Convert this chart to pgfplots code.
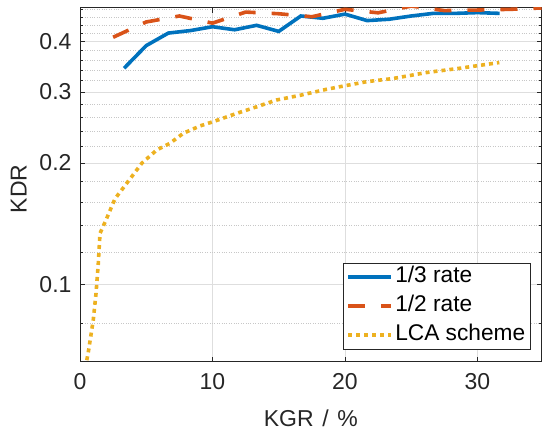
\documentclass[border=0pt]{standalone}
\usepackage{fontspec}
\setmainfont{Liberation Sans}
\usepackage{pgfplots}
\pgfplotsset{compat=1.18}
\definecolor{mblue}{RGB}{0,114,189}
\definecolor{mred}{RGB}{217,83,25}
\definecolor{myellow}{RGB}{237,177,32}
\definecolor{axgray}{RGB}{38,38,38}
\newcommand{\bigfont}{\fontsize{23}{27}\selectfont}
\newcommand{\lgfont}{\fontsize{22.7}{27}\selectfont}
\begin{document}
\begin{tikzpicture}
\useasboundingbox (0,0) rectangle (550pt,437pt);
\begin{axis}[
  at={(80pt,75.3pt)}, anchor=south west,
  scale only axis, width=461.7pt, height=354.2pt,
  xmin=0, xmax=34.85,
  ymode=log, ymin=0.0643, ymax=0.486,
  xtick={0,10,20,30}, xticklabels={0,10,20,30},
  ytick={0.1,0.2,0.3,0.4}, yticklabels={0.1,0.2,0.3,0.4},
  minor ytick={0.08,0.12,0.14,0.16,0.18,0.22,0.24,0.26,0.28,0.32,0.34,0.36,0.38,0.42,0.44,0.46,0.48},
  minor xtick={},
  xmajorgrids, ymajorgrids, yminorgrids,
  major grid style={color=black!13, line width=0.6pt},
  minor grid style={color=black!22, dotted, line width=0.6pt},
  tick align=inside,
  major tick length=5pt, minor tick length=3pt,
  every tick/.style={color=axgray, line width=0.6pt},
  axis line style={color=axgray, line width=0.7pt},
  tick label style={font=\bigfont, text=axgray},
  xticklabel style={yshift=-8pt},
  yticklabel style={xshift=-5pt},
  label style={font=\bigfont, text=axgray},
  xlabel={KGR\hspace{0.38em}/\hspace{0.38em}\%},
  ylabel={KDR},
  xlabel style={at={(axis description cs:0.5,-0.1835)}, anchor=base},
  ylabel style={at={(axis description cs:-0.1154,0.4876)}, anchor=base},
  legend cell align=left,
  legend style={at={(0.977,0.035)}, anchor=south east, draw=axgray, fill=white,
    line width=0.7pt, font=\lgfont, inner ysep=1.5pt, inner xsep=3.5pt, row sep=4pt,
    nodes={text height=16pt, text depth=5pt, inner sep=2pt}},
  legend image code/.code={\draw[#1] (0pt,0pt) -- (43pt,0pt);},
]
\addplot[mblue, line width=3.6pt] coordinates {
(3.33,0.3436) (5,0.391) (6.67,0.420) (8.33,0.426) (10,0.4355) (11.67,0.428)
(13.33,0.439) (15,0.424) (16.67,0.463) (18.33,0.457) (20,0.468) (21.67,0.451)
(23.33,0.4545) (25,0.463) (26.67,0.470) (28.33,0.470) (30,0.472) (31.67,0.470)
};
\addlegendentry{1/3 rate}
\addplot[mred, line width=3.6pt, dash pattern=on 17pt off 16pt] coordinates {
(2.5,0.410) (5,0.4475) (7.5,0.463) (10,0.4445) (12.5,0.4735) (15,0.4690)
(17.5,0.461) (20,0.481) (22.5,0.4715) (25,0.490) (27.5,0.4775) (30,0.479)
(32.5,0.481) (35,0.485)
};
\addlegendentry{1/2 rate}
\addplot[myellow, line width=3.6pt, dash pattern=on 4pt off 4pt] coordinates {
(0.4,0.062) (0.63,0.068) (1.0,0.0815) (1.21,0.095) (1.38,0.1127) (1.51,0.1338)
(1.96,0.1444) (2.64,0.163) (3.52,0.178) (4.66,0.1997) (5.79,0.2154) (6.79,0.2238)
(7.8,0.237) (9.06,0.2471) (10.06,0.2533) (11.83,0.2655) (13.34,0.2757) (14.84,0.2866)
(16.6,0.2943) (18.6,0.3046) (19.87,0.3103) (21.64,0.3182) (23.6,0.3239) (26.17,0.3353)
(28.68,0.3436) (31.65,0.355)
};
\addlegendentry{LCA scheme}
\end{axis}
\end{tikzpicture}
\end{document}
